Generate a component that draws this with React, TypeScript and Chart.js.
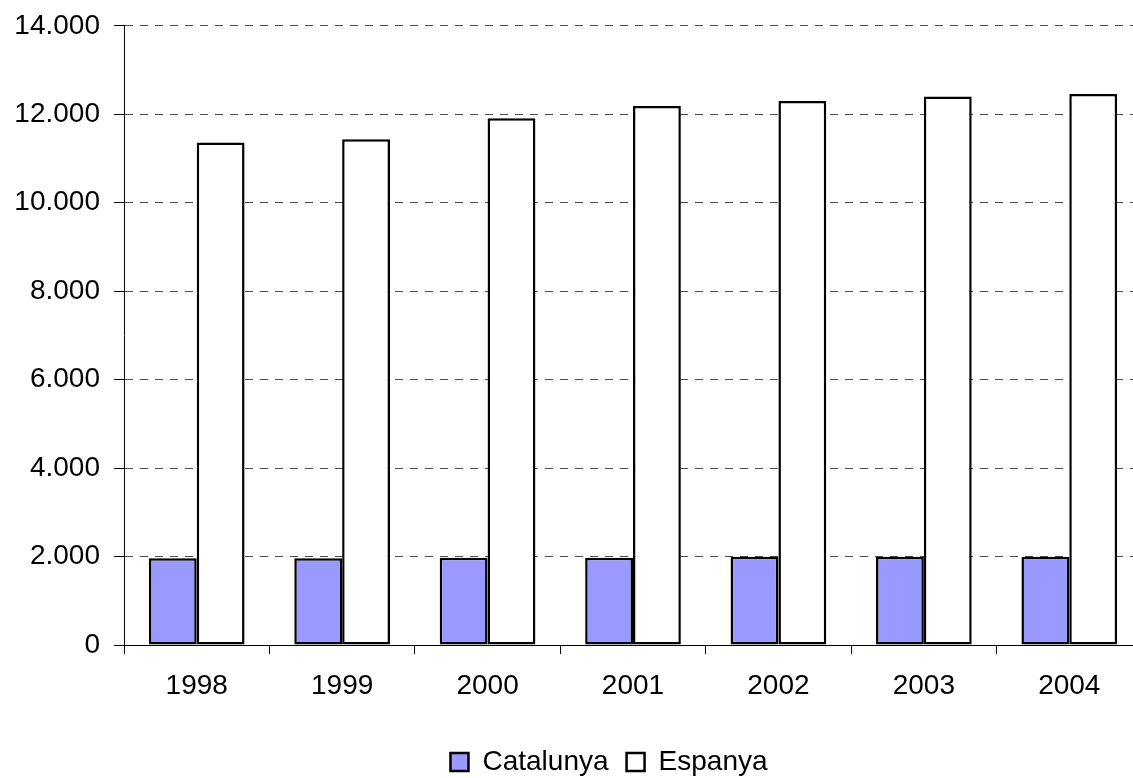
import React, { useEffect, useRef } from "react";
import { Chart, registerables } from "chart.js";

Chart.register(...registerables);

const categories = ["1998", "1999", "2000", "2001", "2002", "2003", "2004"];
const catalunya = [1960, 1960, 1975, 1975, 1995, 1995, 1995];
const espanya = [11360, 11435, 11910, 12185, 12300, 12400, 12460];
const yTicks = [0, 2000, 4000, 6000, 8000, 10000, 12000, 14000];

const FONT = "'Liberation Sans', Arial, Helvetica, sans-serif";

function fmt(v: number): string {
  return String(v).replace(/\B(?=(\d{3})+(?!\d))/g, ".");
}

const legendShift = {
  id: "legendShift",
  afterLayout(chart: any) {
    if (chart.legend) {
      chart.legend.left -= 24;
      chart.legend.right -= 24;
    }
  },
};

export default function App() {
  const ref = useRef<HTMLCanvasElement | null>(null);
  useEffect(() => {
    if (!ref.current) return;
    const chart = new Chart(ref.current, {
      type: "bar",
      data: {
        labels: categories,
        datasets: [
          {
            label: "Catalunya",
            data: catalunya,
            backgroundColor: "#9999FF",
            borderColor: "#000000",
            borderWidth: 2.5,
            borderSkipped: false,
            categoryPercentage: 0.658,
            barPercentage: 1,
          },
          {
            label: "Espanya",
            data: espanya,
            backgroundColor: "#FFFFFF",
            borderColor: "#000000",
            borderWidth: 2.5,
            borderSkipped: false,
            categoryPercentage: 0.658,
            barPercentage: 1,
          },
        ],
      },
      plugins: [legendShift],
      options: {
        responsive: false,
        animation: false,
        devicePixelRatio: 1,
        layout: { padding: { top: 20, left: 0, right: 0, bottom: 0 } },
        plugins: {
          tooltip: { enabled: false },
          legend: {
            position: "bottom",
            fullSize: false,
            labels: {
              font: { family: FONT, size: 28 },
              color: "#000",
              boxWidth: 18,
              boxHeight: 18,
              padding: 18,
            },
          },
        },
        scales: {
          x: {
            offset: true,
            afterFit: (s: any) => {
              s.height = 85;
            },
            grid: {
              display: true,
              drawOnChartArea: false,
              drawTicks: true,
              tickLength: 9,
              color: "#000",
              offset: true,
            },
            border: { display: true, color: "#000", width: 1 },
            ticks: {
              font: { family: FONT, size: 28 },
              color: "#000",
              padding: 15,
              maxRotation: 0,
            },
          },
          y: {
            min: 0,
            max: 14000,
            afterFit: (s: any) => {
              s.width = 124;
            },
            afterBuildTicks: (s: any) => {
              s.ticks = yTicks.map((v) => ({ value: v }));
            },
            grid: {
              color: "#4d4d4d",
              lineWidth: 1,
              tickLength: 10,
              tickColor: "#000",
              tickBorderDash: [],
            },
            border: { display: true, color: "#000", width: 1, dash: [8, 7] },
            ticks: {
              font: { family: FONT, size: 28 },
              color: "#000",
              padding: 14,
              callback: (v: any) => fmt(Number(v)),
            },
          },
        },
      },
    });
    return () => chart.destroy();
  }, []);
  return (
    <div
      style={{
        position: "fixed",
        left: 0,
        top: 0,
        width: 1133,
        height: 778,
        overflow: "hidden",
        background: "#fff",
      }}
    >
      <canvas
        ref={ref}
        width={1142}
        height={791}
        style={{ display: "block", position: "absolute", left: 0, top: -5 }}
      />
    </div>
  );
}
